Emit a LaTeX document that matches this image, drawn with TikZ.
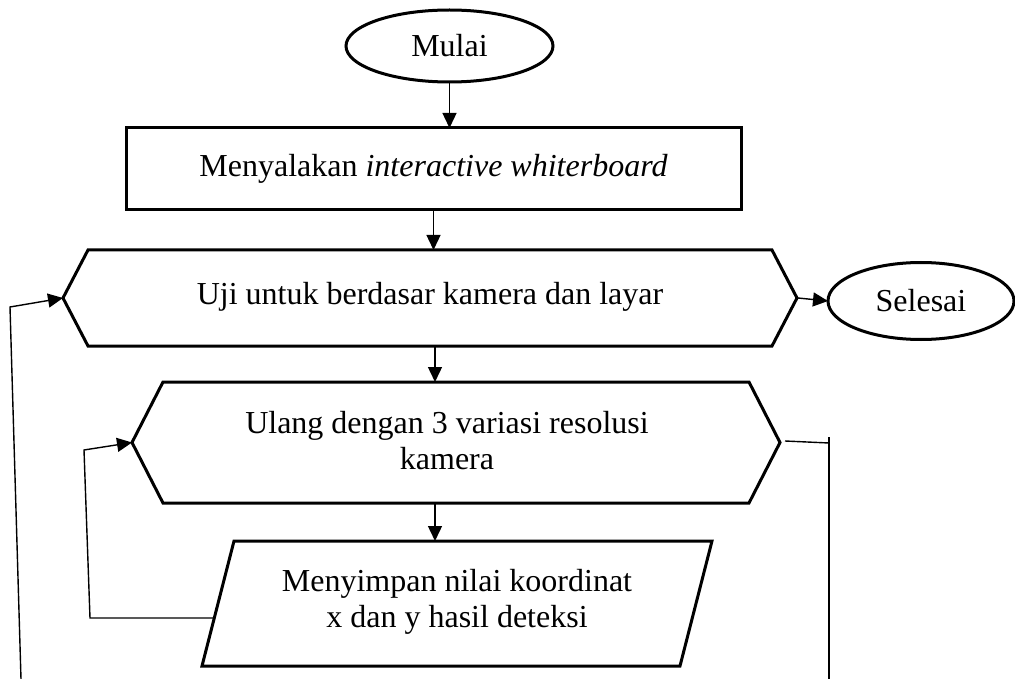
\documentclass[tikz,border=0pt]{standalone}
\usepackage{fontspec}
\setmainfont{Liberation Serif}
\usetikzlibrary{shapes.geometric,arrows.meta,calc}
\begin{document}
\begin{tikzpicture}[x=1pt,y=-1pt,
  shp/.style={draw=black,line width=3pt,line join=miter},
  box/.style={inner sep=0pt,outer sep=0pt},
  txt/.style={font=\fontsize{32}{36}\selectfont,align=center,inner sep=0pt},
  conn/.style={draw=black,line width=1.4pt},
  arr/.style={conn,-{Triangle[length=15pt,width=14pt]}}]
\useasboundingbox (0,0) rectangle (1015,679);
% shapes
\node[ellipse,shp,box,minimum width=207pt,minimum height=72pt,txt] (start) at (449.5,46) {Mulai};
\node[rectangle,shp,box,minimum width=615pt,minimum height=82pt,txt] (rect) at (433.5,169) {Menyalakan \textit{interactive whiterboard}};
\node[box,minimum width=734pt,minimum height=96pt] (hex1) at (430,298) {};
\draw[shp] (hex1.west) -- ([xshift=25pt]hex1.north west) -- ([xshift=-25pt]hex1.north east) -- (hex1.east) -- ([xshift=-25pt]hex1.south east) -- ([xshift=25pt]hex1.south west) -- cycle;
\node[txt] (t1) at (430,297) {Uji untuk berdasar kamera dan layar};
\node[ellipse,shp,box,minimum width=186pt,minimum height=77pt,txt] (end) at (921,301) {Selesai};
\node[box,minimum width=648pt,minimum height=121pt] (hex2) at (456,442.5) {};
\draw[shp] (hex2.west) -- ([xshift=31pt]hex2.north west) -- ([xshift=-31pt]hex2.north east) -- (hex2.east) -- ([xshift=-31pt]hex2.south east) -- ([xshift=31pt]hex2.south west) -- cycle;
\node[txt] (t2) at (447,441) {Ulang dengan 3 variasi resolusi\\kamera};
\node[box,minimum width=510pt,minimum height=125pt] (para) at (457,603.5) {};
\draw[shp] ([xshift=32pt]para.north west) -- (para.north east) -- ([xshift=-32pt]para.south east) -- (para.south west) -- cycle;
\node[txt] (t3) at (457,602) {Menyimpan nilai koordinat\\x dan y hasil deteksi};
% connectors
\draw[arr] (start.south) -- (start.south |- rect.north);
\draw[arr] (rect.south) -- (rect.south |- hex1.north);
\draw[arr] ([xshift=5pt]hex1.south) -- ([xshift=5pt]hex1.south |- hex2.north);
\draw[arr] ([xshift=-21pt]hex2.south) -- ([xshift=-21pt]hex2.south |- para.north);
\draw[arr] ([xshift=1pt]hex1.east) -- (end.west);
\coordinate (pl) at (214.3,618);
\coordinate (a1) at (90,618);
\coordinate (a2) at (84,450);
\draw[arr] (pl) -- (a1) -- (a2) -- (hex2.west);
\coordinate (b1) at (21,679);
\coordinate (b2) at (10,307);
\draw[arr] (b1) -- (b2) -- (hex1.west);
\coordinate (c1) at (785,441);
\coordinate (c2) at (829,443);
\coordinate (c3) at (829,437);
\coordinate (c4) at (829,679);
\draw[conn] (c1) -- (c2);
\draw[conn] (c3) -- (c4);
\end{tikzpicture}
\end{document}
